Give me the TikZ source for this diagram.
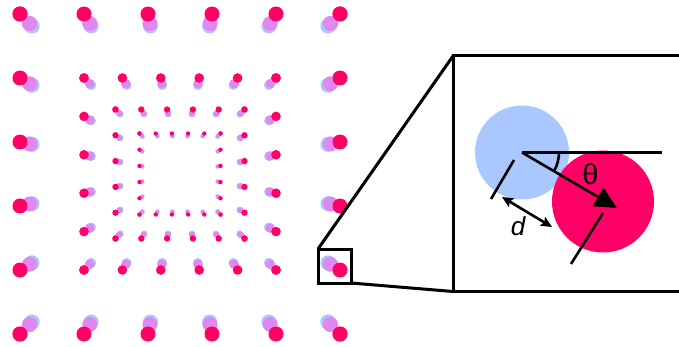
\documentclass[tikz,border=0pt]{standalone}
\usepackage{fontspec}
\setmainfont{Liberation Sans}
\usepackage{xcolor}
\usepackage{tikz}
\usetikzlibrary{arrows.meta,calc,positioning}
\definecolor{atomblue}{RGB}{170,200,255}
\definecolor{atompink}{RGB}{222,136,240}
\definecolor{atomred}{RGB}{255,0,102}

\begin{document}
\begin{tikzpicture}[x=1pt,y=-1pt,
  frame/.style={line width=3pt,line join=miter},
  guide/.style={line width=2.6pt},
  label/.style={inner sep=0pt,font=\fontsize{26}{30}\selectfont}]
  \useasboundingbox (0,0) rectangle (679,347);
  % Lattice of displaced atoms
  \begin{scope}[shift={(180,174)}]
    \foreach \h/\r in {160/7.5,96/4.8,64.5/3.2,40.5/2.2}{
      \foreach \i in {0,...,5}{
        \pgfmathsetmacro{\s}{-\h+\i*\h*2/5}
        \foreach \px/\py in {\s/-\h,\s/\h,-\h/\s,\h/\s}{
          \fill[atomblue] ({0.925*(\px)},{0.925*(\py)}) circle (\r);
          \fill[atompink] ({0.94*(\px)},{0.94*(\py)}) circle (\r);
          \fill[atomred] ({\px},{\py}) circle (\r);
        }
      }
    }
  \end{scope}
  % Zoom box and frame
  \coordinate (sqnw) at (318,249);
  \coordinate (sqse) at (351,283);
  \coordinate (boxnw) at (453,56);
  \coordinate (boxsw) at (453,291.5);
  \draw[frame] (sqnw) rectangle (sqse);
  \draw[frame] (sqnw) -- (boxnw);
  \draw[frame] (sqse) -- (boxsw);
  \draw[frame] (690,56) -- (boxnw) -- (boxsw) -- (690,291.5);
  % Close-up of one atom
  \coordinate (old) at (522,152.5);
  \coordinate (new) at (603,201.5);
  \fill[atomblue] (old) circle (47);
  \fill[atomred] (new) circle (51);
  \coordinate (hor) at (662,152.5);
  \coordinate (tip) at (617,208);
  \draw[guide] (old) -- (hor);
  \draw[guide,-{Triangle[length=22pt,width=21pt]}] (old) -- (tip);
  \draw[guide] ($(old)+(37,0)$) arc[start angle=0,end angle=30.5,radius=37];
  \node[label,font=\fontsize{29}{32}\selectfont] (theta) at (590.5,174) {θ};
  % Displacement
  \coordinate (tka) at (514,160);
  \coordinate (tkb) at (491,199);
  \coordinate (tkc) at (603,213);
  \coordinate (tkd) at (571,264);
  \draw[guide] (tka) -- (tkb);
  \draw[guide] (tkc) -- (tkd);
  \coordinate (da) at (502,197);
  \coordinate (db) at (552,227);
  \draw[guide,{Stealth[length=11pt,width=10pt,inset=2pt]}-{Stealth[length=11pt,width=10pt,inset=2pt]}] (da) -- (db);
  \node[label,font=\fontsize{26}{30}\selectfont\itshape] (dist) at (518,226) {d};
\end{tikzpicture}
\end{document}
